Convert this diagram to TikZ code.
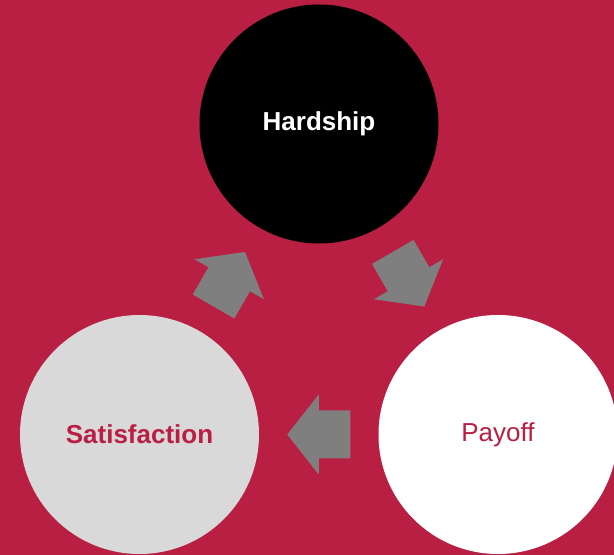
\documentclass[tikz,border=0pt]{standalone}
\usepackage{fontspec}
\setmainfont{Liberation Sans}
\usetikzlibrary{calc}
\definecolor{crimson}{HTML}{B91F42}
\definecolor{lightgray}{HTML}{D9D9D9}
\definecolor{arrowgray}{HTML}{7F7F7F}

\begin{document}
\begin{tikzpicture}[
  x=1pt, y=1pt,
  stage/.style={circle, draw=none, fill=#1, minimum size=239pt, inner sep=0pt, font=\fontsize{26}{30}\selectfont},
  cyclearrow/.pic={
    \fill[arrowgray] (-31.5,-24) -- (0,-24) -- (0,-40) -- (31.5,0) -- (0,40) -- (0,24) -- (-31.5,24) -- cycle;
  }
]
  % background
  \fill[crimson] (0,0) rectangle (614,555);
  \useasboundingbox (0,0) rectangle (614,555);

  \node[stage=black, text=white, font=\fontsize{26}{30}\selectfont\bfseries] (hard) at (319,431) {Hardship};
  \node[stage=white, text=crimson] (pay) at (498,120.5) {Payoff};
  \node[stage=lightgray, text=crimson, font=\fontsize{26}{30}\selectfont\bfseries] (sat) at (139.5,120.5) {Satisfaction};

  % block arrows round the cycle
  \pic[rotate=-60] at ($(hard)!0.5!(pay)$) {cyclearrow};
  \pic[rotate=180] at ($(pay)!0.5!(sat)$) {cyclearrow};
  \pic[rotate=60] at ($(sat)!0.5!(hard)$) {cyclearrow};
\end{tikzpicture}
\end{document}
